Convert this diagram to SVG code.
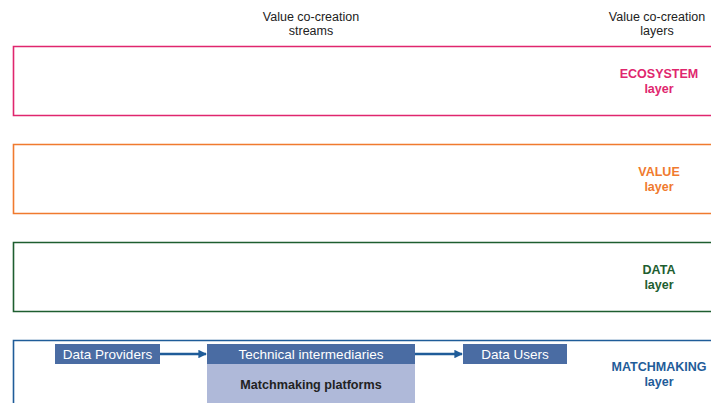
<svg xmlns="http://www.w3.org/2000/svg" width="711" height="403" viewBox="0 0 711 403">
  <defs>
    <style>
      .head { font-family: "Liberation Sans", Arial, sans-serif; font-size: 12.5px; fill: #222; text-anchor: middle; }
      .lay { fill: none; stroke-width: 1.6; }
      .lbl { font-family: "Liberation Sans", Arial, sans-serif; font-size: 12.5px; font-weight: bold; text-anchor: middle; }
      .box { fill: #4A6CA3; }
      .boxt { font-family: "Liberation Sans", Arial, sans-serif; font-size: 13.5px; fill: #fff; text-anchor: middle; }
      .plat { font-family: "Liberation Sans", Arial, sans-serif; font-size: 12.6px; font-weight: bold; fill: #222; text-anchor: middle; }
      .conn { stroke: #1F5C99; stroke-width: 2.5; fill: none; marker-end: url(#arr); }
    </style>
    <marker id="arr" viewBox="0 0 10 10" refX="9" refY="5" markerWidth="3.4" markerHeight="3.4" orient="auto" markerUnits="strokeWidth">
      <path d="M0,0 L10,5 L0,10 z" fill="#1F5C99"/>
    </marker>
  </defs>
  <rect width="711" height="403" fill="#fff"/>

  <!-- column headings -->
  <text class="head" x="311" y="21">Value co-creation</text>
  <text class="head" x="311" y="35">streams</text>
  <text class="head" x="657" y="21">Value co-creation</text>
  <text class="head" x="657" y="35">layers</text>

  <!-- layers -->
  <g id="ecosystem">
    <path class="lay" stroke="#E0266E" d="M720,46.5 H13.5 V115.5 H720"/>
    <text class="lbl" fill="#E0266E" x="659" y="78">ECOSYSTEM</text>
    <text class="lbl" fill="#E0266E" x="659" y="93">layer</text>
  </g>
  <g id="value">
    <path class="lay" stroke="#F07A2E" d="M720,144.5 H13.5 V213.5 H720"/>
    <text class="lbl" fill="#F07A2E" x="659" y="176">VALUE</text>
    <text class="lbl" fill="#F07A2E" x="659" y="191">layer</text>
  </g>
  <g id="data">
    <path class="lay" stroke="#1E5E30" d="M720,242.5 H13.5 V311.5 H720"/>
    <text class="lbl" fill="#1E5E30" x="659" y="274">DATA</text>
    <text class="lbl" fill="#1E5E30" x="659" y="289">layer</text>
  </g>
  <g id="matchmaking">
    <path class="lay" stroke="#1F5C99" d="M720,340.5 H13.5 V410"/>
    <text class="lbl" fill="#1F5C99" x="659" y="371">MATCHMAKING</text>
    <text class="lbl" fill="#1F5C99" x="659" y="386">layer</text>
  </g>

  <!-- actors -->
  <g id="providers">
    <rect class="box" x="55" y="344" width="105" height="20"/>
    <text class="boxt" x="107.5" y="359">Data Providers</text>
  </g>
  <g id="intermediaries">
    <rect x="207" y="364" width="208" height="39" fill="#AFB9D9"/>
    <rect class="box" x="207" y="344" width="208" height="20"/>
    <text class="boxt" x="311" y="359">Technical intermediaries</text>
    <text class="plat" x="311" y="389">Matchmaking platforms</text>
  </g>
  <g id="users">
    <rect class="box" x="463" y="344" width="104" height="20"/>
    <text class="boxt" x="515" y="359">Data Users</text>
  </g>

  <!-- connectors -->
  <g id="connectors">
    <line class="conn" x1="160" y1="354" x2="206" y2="354"/>
    <line class="conn" x1="415" y1="354" x2="462" y2="354"/>
  </g>
</svg>
